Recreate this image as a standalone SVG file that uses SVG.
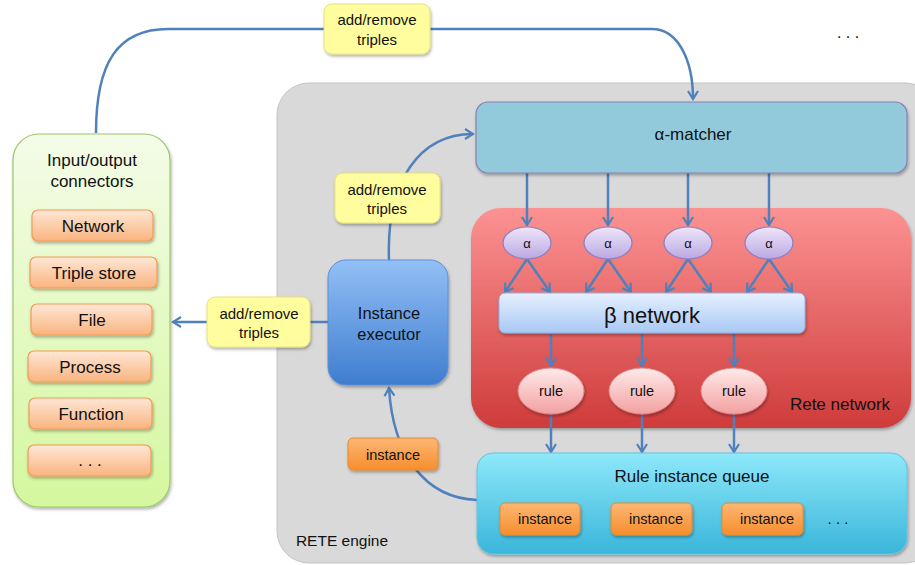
<svg xmlns="http://www.w3.org/2000/svg" width="915" height="565" viewBox="0 0 915 565">
<style>
text{font-family:"Liberation Sans",Arial,sans-serif;fill:#111;text-anchor:middle;font-size:15px}
.big{font-size:17px}
.conn{fill:none;stroke:#4F81BD;stroke-width:2.5}
.ylw{fill:#FFFD9E;stroke:#E8E27A;stroke-width:1}
.io{fill:url(#gOrL);stroke:#F39A54;stroke-width:1.2}
.inst{fill:url(#gOr);stroke:#E7892E;stroke-width:1}
.alpha{fill:url(#gLav);stroke:#8F7CC0;stroke-width:1.2}
.rule{fill:url(#gPink);stroke:#E08A8A;stroke-width:1}
</style>
<defs>
<filter id="sh" x="-10%" y="-10%" width="130%" height="140%"><feDropShadow dx="1" dy="2" stdDeviation="1.5" flood-color="#000" flood-opacity="0.3"/></filter>
<marker id="ar" viewBox="0 0 12 12" refX="10" refY="6" markerWidth="4.8" markerHeight="4.8" orient="auto" markerUnits="strokeWidth"><path d="M2,1 L10,6 L2,11" fill="none" stroke="#4F81BD" stroke-width="2.2"/></marker>
<linearGradient id="gGreen" x1="0" y1="0" x2="0" y2="1"><stop offset="0" stop-color="#F4FCE8"/><stop offset="1" stop-color="#D5F79E"/></linearGradient>
<linearGradient id="gOrL" x1="0" y1="0" x2="0" y2="1"><stop offset="0" stop-color="#FEE7D6"/><stop offset="1" stop-color="#F9B47F"/></linearGradient>
<linearGradient id="gOr" x1="0" y1="0" x2="0" y2="1"><stop offset="0" stop-color="#FDB774"/><stop offset="1" stop-color="#F68E2E"/></linearGradient>
<linearGradient id="gRed" x1="0" y1="0" x2="0" y2="1"><stop offset="0" stop-color="#FC9292"/><stop offset="1" stop-color="#CF3B3B"/></linearGradient>
<linearGradient id="gLav" x1="0" y1="0" x2="0" y2="1"><stop offset="0" stop-color="#EEE6FA"/><stop offset="1" stop-color="#BBA8E2"/></linearGradient>
<linearGradient id="gPink" x1="0" y1="0" x2="0" y2="1"><stop offset="0" stop-color="#FFEAEA"/><stop offset="1" stop-color="#F3A0A0"/></linearGradient>
<linearGradient id="gBeta" x1="0" y1="0" x2="0" y2="1"><stop offset="0" stop-color="#E6F0FF"/><stop offset="1" stop-color="#A8C8F4"/></linearGradient>
<linearGradient id="gExec" x1="0" y1="0" x2="0" y2="1"><stop offset="0" stop-color="#93BFF6"/><stop offset="1" stop-color="#3E7DCF"/></linearGradient>
<linearGradient id="gQueue" x1="0" y1="0" x2="0" y2="1"><stop offset="0" stop-color="#8EE8FA"/><stop offset="1" stop-color="#3AB5DA"/></linearGradient>
</defs>

<g id="rete-engine">
<rect x="277" y="83" width="660" height="480" rx="32" fill="#D9D9D9" stroke="#C4C4C4" stroke-width="1"/>
<text x="342" y="546" style="font-size:15.5px">RETE engine</text>
</g>

<g id="rete-network">
<rect x="471" y="208" width="440" height="220" rx="30" fill="url(#gRed)" filter="url(#sh)"/>
<text class="big" x="840" y="410">Rete network</text>
</g>

<g id="connectors">
<path class="conn" d="M96,133 C96,62 118,29 168,29 L652,29 C678,29 693,60 693,99" marker-end="url(#ar)"/>
<path class="conn" d="M389,260 C386,180 420,134 473,134" marker-end="url(#ar)"/>
<path class="conn" d="M328,322 L173,322" marker-end="url(#ar)"/>
<path class="conn" d="M477,500 C425,498 393,455 389,388" marker-end="url(#ar)"/>
<path class="conn" d="M527,173 V225" marker-end="url(#ar)"/>
<path class="conn" d="M608,173 V225" marker-end="url(#ar)"/>
<path class="conn" d="M688,173 V225" marker-end="url(#ar)"/>
<path class="conn" d="M769,173 V225" marker-end="url(#ar)"/>
<path class="conn" d="M527,259 L505,292" marker-end="url(#ar)"/>
<path class="conn" d="M527,259 L550,292" marker-end="url(#ar)"/>
<path class="conn" d="M608,259 L586,292" marker-end="url(#ar)"/>
<path class="conn" d="M608,259 L631,292" marker-end="url(#ar)"/>
<path class="conn" d="M688,259 L666,292" marker-end="url(#ar)"/>
<path class="conn" d="M688,259 L711,292" marker-end="url(#ar)"/>
<path class="conn" d="M769,259 L747,292" marker-end="url(#ar)"/>
<path class="conn" d="M769,259 L792,292" marker-end="url(#ar)"/>
<path class="conn" d="M551,334 V366" marker-end="url(#ar)"/>
<path class="conn" d="M642,334 V366" marker-end="url(#ar)"/>
<path class="conn" d="M734,334 V366" marker-end="url(#ar)"/>
<path class="conn" d="M551,414 V452" marker-end="url(#ar)"/>
<path class="conn" d="M642,414 V452" marker-end="url(#ar)"/>
<path class="conn" d="M734,414 V452" marker-end="url(#ar)"/>
</g>

<g id="io-connectors">
<rect x="13" y="134" width="157" height="373" rx="26" fill="url(#gGreen)" stroke="#9CC66C" stroke-width="1.2" filter="url(#sh)"/>
<text class="big" x="92" y="166">Input/output</text>
<text class="big" x="92" y="187">connectors</text>
</g>
<g id="io-network"><rect class="io" x="32" y="210" width="121" height="31" rx="6" filter="url(#sh)"/><text class="big" x="93" y="232">Network</text></g>
<g id="io-triple-store"><rect class="io" x="30" y="257" width="127" height="31" rx="6" filter="url(#sh)"/><text class="big" x="94" y="279">Triple store</text></g>
<g id="io-file"><rect class="io" x="31" y="304" width="121" height="31" rx="6" filter="url(#sh)"/><text class="big" x="92" y="326">File</text></g>
<g id="io-process"><rect class="io" x="28" y="351" width="123" height="31" rx="6" filter="url(#sh)"/><text class="big" x="90" y="373">Process</text></g>
<g id="io-function"><rect class="io" x="29" y="398" width="123" height="31" rx="6" filter="url(#sh)"/><text class="big" x="91" y="420">Function</text></g>
<g id="io-more"><rect class="io" x="28" y="445" width="123" height="31" rx="6" filter="url(#sh)"/><text class="big" x="90" y="466">. . .</text></g>

<g id="label-top"><rect class="ylw" x="324" y="4" width="106" height="50" rx="8" filter="url(#sh)"/><text x="377" y="25">add/remove</text><text x="377" y="45">triples</text></g>
<g id="label-exec-matcher"><rect class="ylw" x="335" y="173" width="105" height="50" rx="8" filter="url(#sh)"/><text x="387" y="195">add/remove</text><text x="387" y="214">triples</text></g>
<g id="label-exec-io"><rect class="ylw" x="207" y="297" width="103" height="50" rx="8" filter="url(#sh)"/><text x="259" y="319">add/remove</text><text x="259" y="338">triples</text></g>

<g id="alpha-matcher">
<rect x="476" y="102" width="431" height="71" rx="12" fill="#92CADC" stroke="#8A7FB5" stroke-width="1.2" filter="url(#sh)"/>
<text class="big" x="693" y="140">α-matcher</text>
</g>

<g id="alpha1"><ellipse class="alpha" cx="527" cy="243" rx="24" ry="16"/><text x="527" y="248" style="font-size:13px">α</text></g>
<g id="alpha2"><ellipse class="alpha" cx="608" cy="243" rx="24" ry="16"/><text x="608" y="248" style="font-size:13px">α</text></g>
<g id="alpha3"><ellipse class="alpha" cx="688" cy="243" rx="24" ry="16"/><text x="688" y="248" style="font-size:13px">α</text></g>
<g id="alpha4"><ellipse class="alpha" cx="769" cy="243" rx="24" ry="16"/><text x="769" y="248" style="font-size:13px">α</text></g>

<g id="beta-network">
<rect x="499" y="293" width="306" height="40" rx="6" fill="url(#gBeta)" stroke="#8FB0E0" stroke-width="1" filter="url(#sh)"/>
<text x="652" y="323" style="font-size:22px">β network</text>
</g>

<g id="rule1"><ellipse class="rule" cx="551" cy="391" rx="33" ry="23" filter="url(#sh)"/><text x="551" y="396" style="font-size:14.5px">rule</text></g>
<g id="rule2"><ellipse class="rule" cx="642" cy="391" rx="33" ry="23" filter="url(#sh)"/><text x="642" y="396" style="font-size:14.5px">rule</text></g>
<g id="rule3"><ellipse class="rule" cx="734" cy="391" rx="33" ry="23" filter="url(#sh)"/><text x="734" y="396" style="font-size:14.5px">rule</text></g>

<g id="instance-executor">
<rect x="328" y="260" width="120" height="125" rx="18" fill="url(#gExec)" stroke="#5B8FD6" stroke-width="1" filter="url(#sh)"/>
<text x="389" y="319" style="font-size:16.5px">Instance</text>
<text x="389" y="340" style="font-size:16.5px">executor</text>
</g>

<g id="instance-label"><rect class="inst" x="348" y="438" width="90" height="32" rx="5" filter="url(#sh)"/><text x="393" y="460" style="font-size:14.5px">instance</text></g>

<g id="rule-instance-queue">
<rect x="477" y="453" width="430" height="101" rx="16" fill="url(#gQueue)" stroke="#5EC5E3" stroke-width="1" filter="url(#sh)"/>
<text class="big" x="692" y="482">Rule instance queue</text>
<text x="838" y="524">. . .</text>
</g>
<g id="queue-instance1"><rect class="inst" x="500" y="503" width="80" height="32" rx="5" filter="url(#sh)"/><text x="545" y="524" style="font-size:14.5px">instance</text></g>
<g id="queue-instance2"><rect class="inst" x="611" y="503" width="81" height="32" rx="5" filter="url(#sh)"/><text x="656" y="524" style="font-size:14.5px">instance</text></g>
<g id="queue-instance3"><rect class="inst" x="722" y="503" width="81" height="32" rx="5" filter="url(#sh)"/><text x="767" y="524" style="font-size:14.5px">instance</text></g>

<g id="more-engines"><text x="848" y="38" style="font-size:16px">. . .</text></g>
</svg>
